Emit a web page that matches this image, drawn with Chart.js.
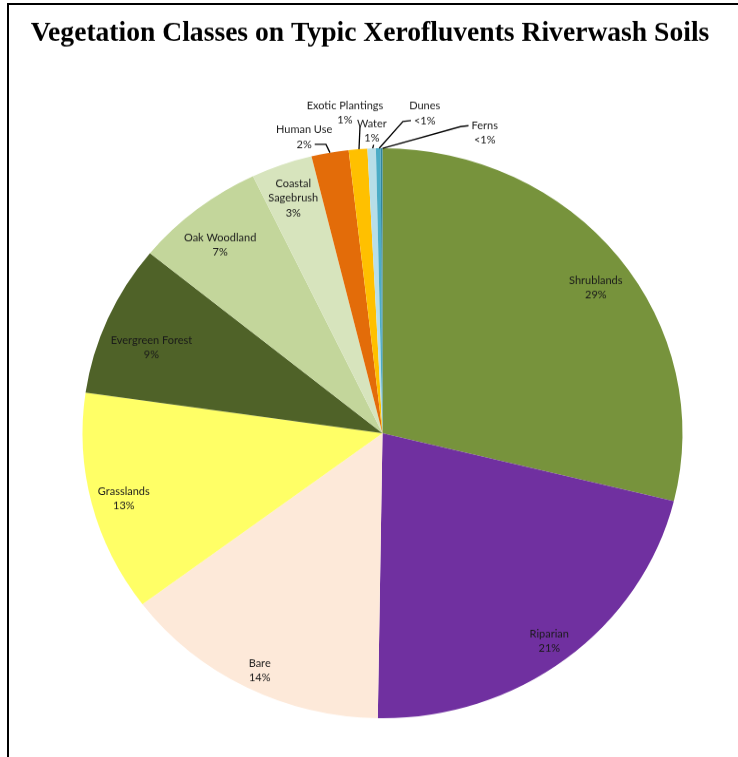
<!DOCTYPE html>
<html>
<head>
<meta charset="utf-8">
<title>Vegetation Classes</title>
<script src="https://cdn.jsdelivr.net/npm/chart.js@4/dist/chart.umd.min.js"></script>
<style>
  html, body { margin: 0; padding: 0; background: #fff; overflow: hidden; }
  #wrap { position: absolute; left: 0; top: 0; width: 738px; height: 797px; transform: scaleY(0.95); transform-origin: 0 0; }
  #c { width: 738px; height: 797px; }
  #frame { position: absolute; left: 7px; top: 3px; width: 780px; height: 800px; border-left: 2px solid #000; border-top: 2px solid #000; }
</style>
</head>
<body>
<div id="wrap"><canvas id="c" width="738" height="797"></canvas></div>
<div id="frame"></div>
<script>
// data (percent of area)
const categories = ['Shrublands', 'Riparian', 'Bare', 'Grasslands', 'Evergreen Forest', 'Oak Woodland',
  'Coastal Sagebrush', 'Human Use', 'Exotic Plantings', 'Water', 'Dunes', 'Ferns'];
const shares = [28.8, 21.4, 14.5, 12.5, 8.6, 7.0, 3.3, 2.0, 1.0, 0.45, 0.25, 0.1];
const pctLabels = ['29%', '21%', '14%', '13%', '9%', '7%', '3%', '2%', '1%', '1%', '<1%', '<1%'];
const colors = ['#77933C', '#7030A0', '#FDE9D9', '#FFFF66', '#4F6228', '#C3D69B',
  '#D7E4BD', '#E36C09', '#FFC000', '#B7DEE8', '#4BACC6', '#31859C'];

// label placement: inside ones by radius factor (and a small angle nudge),
// the thin slices get theirs outside with a leader line
const placement = {
  'Shrublands': { r: 0.88, dDeg: 2.0 },
  'Riparian': { r: 0.91 },
  'Bare': { r: 0.92, dDeg: -0.6 },
  'Grasslands': { r: 0.89 },
  'Evergreen Forest': { r: 0.83, dDeg: -1.8 },
  'Oak Woodland': { r: 0.86, dDeg: -0.8 },
  'Coastal Sagebrush': { r: 0.885, lines: ['Coastal', 'Sagebrush'] },
  'Human Use': { deg: 346, r: 1.08, leader: 'right' },
  'Exotic Plantings': { deg: 353.7, r: 1.14, leader: 'below' },
  'Water': { deg: 358.1, r: 1.07, leader: 'below' },
  'Dunes': { deg: 7.1, r: 1.14, leader: 'left' },
  'Ferns': { deg: 17.8, r: 1.115, leader: 'left' }
};

const SQUASH = 0.95;   // page squeezes the canvas vertically so the pie is slightly oval
const LINE_H = 15.5;
const TEXT_DY = 2.5;

// draw text so it looks unsquashed after the css scale
function upright(ctx, t, x, y) {
  ctx.save();
  ctx.translate(x, y);
  ctx.scale(1, 1 / SQUASH);
  ctx.fillText(t, 0, 0);
  ctx.restore();
}

const sliceLabels = {
  id: 'sliceLabels',
  afterDatasetsDraw(chart) {
    const ctx = chart.ctx;
    const meta = chart.getDatasetMeta(0);
    ctx.save();
    ctx.font = '11px Lato';
    ctx.fillStyle = '#1a1a1a';
    ctx.strokeStyle = '#000';
    ctx.lineWidth = 1.3;
    ctx.textAlign = 'center';
    ctx.textBaseline = 'middle';
    meta.data.forEach((arc, i) => {
      const p = arc.getProps(['x', 'y', 'startAngle', 'endAngle', 'outerRadius'], true);
      const mid = (p.startAngle + p.endAngle) / 2;
      const pl = placement[categories[i]];
      const lines = (pl.lines || [categories[i]]).concat([pctLabels[i]]);
      const a = pl.deg === undefined
        ? mid + (pl.dDeg || 0) * Math.PI / 180
        : (pl.deg - 90) * Math.PI / 180;
      const cx = p.x + Math.cos(a) * p.outerRadius * pl.r;
      const cy = p.y + Math.sin(a) * p.outerRadius * pl.r + TEXT_DY;
      const y0 = cy - (lines.length - 1) * LINE_H / 2;
      lines.forEach((t, k) => upright(ctx, t, cx, y0 + k * LINE_H));

      if (pl.leader) {
        const ex = p.x + Math.cos(mid) * p.outerRadius;
        const ey = p.y + Math.sin(mid) * p.outerRadius;
        const pctY = y0 + (lines.length - 1) * LINE_H;
        ctx.beginPath();
        if (pl.leader === 'right') {
          const sx = cx + ctx.measureText(pctLabels[i]).width / 2 + 3;
          ctx.moveTo(sx, pctY);
          ctx.lineTo(ex - 4, pctY);
          ctx.lineTo(ex, ey);
        } else if (pl.leader === 'below') {
          ctx.moveTo(ex + 2, pctY + 7);
          ctx.lineTo(ex + 1, ey);
        } else {
          const first = categories[i] === 'Ferns';
          const sx = cx - ctx.measureText(first ? lines[0] : lines[1]).width / 2 - 3;
          const sy = first ? y0 : pctY;
          ctx.moveTo(sx, sy);
          ctx.lineTo(sx - 8, sy + 1);
          ctx.lineTo(ex + 1, ey);
        }
        ctx.stroke();
      }
    });
    ctx.restore();
  }
};

const chartTitle = {
  id: 'chartTitle',
  afterDraw(chart) {
    const ctx = chart.ctx;
    ctx.save();
    ctx.font = 'bold 27.6px "Liberation Serif"';
    ctx.fillStyle = '#000';
    ctx.textAlign = 'center';
    ctx.textBaseline = 'alphabetic';
    upright(ctx, 'Vegetation Classes on Typic Xerofluvents Riverwash Soils', 370, 43);
    ctx.restore();
  }
};

new Chart(document.getElementById('c'), {
  type: 'pie',
  data: {
    labels: categories,
    datasets: [{
      data: shares,
      backgroundColor: colors,
      borderWidth: 0
    }]
  },
  options: {
    responsive: false,
    animation: false,
    layout: { padding: { left: 82, right: 55, top: 156, bottom: 41 } },
    plugins: {
      legend: { display: false },
      tooltip: { enabled: false },
      title: { display: false }
    }
  },
  plugins: [sliceLabels, chartTitle]
});
</script>
</body>
</html>
